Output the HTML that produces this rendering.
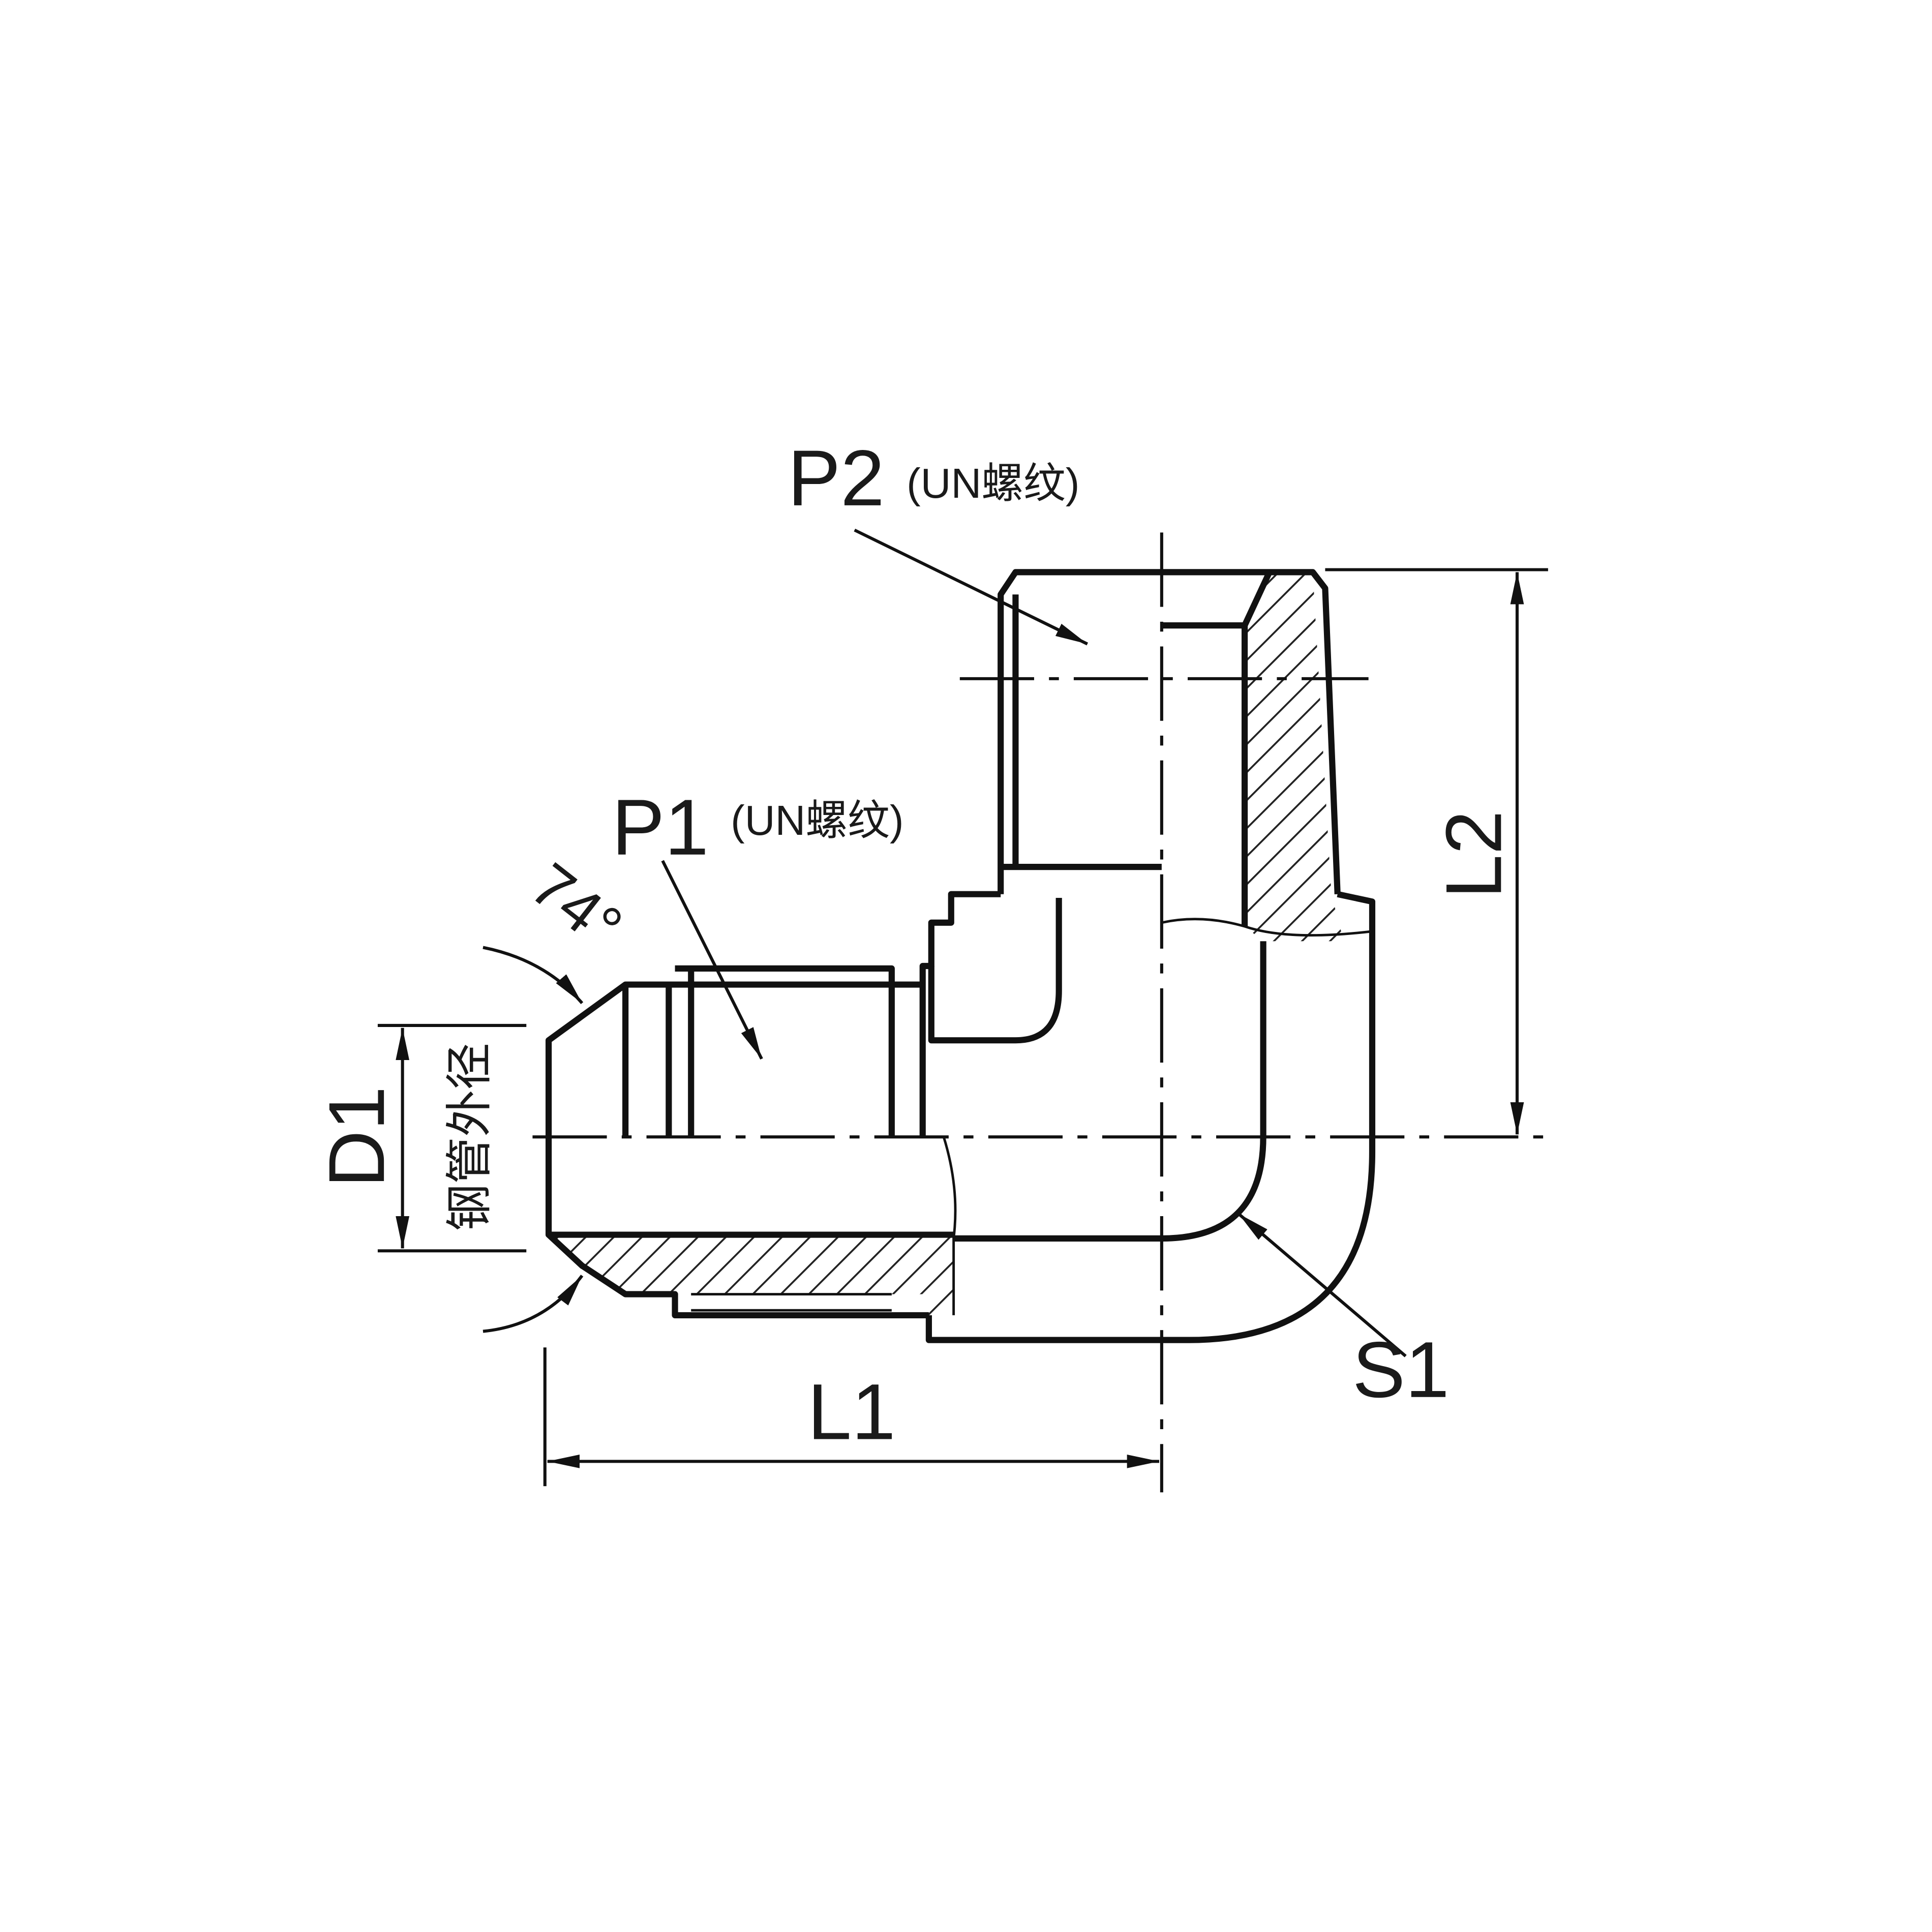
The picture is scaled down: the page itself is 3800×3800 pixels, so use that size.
<!DOCTYPE html>
<html><head><meta charset="utf-8"><style>
html,body{margin:0;padding:0;background:#fff;}
svg{display:block;}
text{font-family:"Liberation Sans","Noto Sans CJK SC",sans-serif;fill:#1a1a1a;}
</style></head><body>
<svg width="3800" height="3800" viewBox="0 0 1560 1560" xmlns="http://www.w3.org/2000/svg">
<defs>
<marker id="a" viewBox="0 0 10 10" refX="10" refY="5" markerWidth="26" markerHeight="11" markerUnits="userSpaceOnUse" orient="auto-start-reverse" preserveAspectRatio="none"><path d="M0,0 L10,5 L0,10 z" fill="#111"/></marker>
<pattern id="h" width="16" height="16" patternUnits="userSpaceOnUse" patternTransform="rotate(45)"><line x1="0" y1="0" x2="0" y2="16" stroke="#222" stroke-width="3"/></pattern>
</defs>
<g fill="none" stroke="#111" stroke-width="5" stroke-linejoin="round">
<path d="M1005,505 L1025,462 L1060,462 L1075,722 L1085,760 L1020,760 L1005,748 Z" fill="url(#h)" stroke="none"/>
<path d="M443,997 L770,997 L770,1062 L748,1062 L748,1045 L545,1045 L505,1045 L470,1022 Z" fill="url(#h)" stroke="none"/>
<path d="M808,722 L808,480 L820,462 L1060,462 L1070,475 L1080,722"/>
<path d="M820,480 L820,700"/>
<path d="M808,700 L938,700"/>
<path d="M938,505 L1005,505 L1025,462"/>
<path d="M1005,505 L1005,748"/>
<path d="M808,722 L768,722 L768,745 L752,745 L752,780 L745,780 L745,795"/>
<path d="M1080,722 L1108,728 L1108,930 Q1108,1082 960,1082 L750,1082 L750,1062"/>
<path d="M1020,760 L1020,918 Q1020,1000 938,1000 L770,1000"/>
<path d="M752,780 L752,840 L820,840 Q855,840 855,800 L855,725"/>
<path d="M938,745 Q970,738 1005,748 Q1040,760 1108,752" stroke-width="2"/>
<path d="M762,918 Q775,960 770,1000 L770,1062" stroke-width="2"/>
<path d="M745,795 L505,795 L443,840 L443,997 L470,1022 L505,1045 L545,1045 L545,1062 L750,1062"/>
<path d="M443,997 L770,997"/>
<path d="M505,795 L505,918"/>
<path d="M540,795 L540,918 M558,780 L558,918 M545,782 L720,782 L720,918 M745,795 L745,918"/>
<path d="M558,1045 L720,1045 M558,1058 L720,1058" stroke-width="2"/>
</g>
<g stroke="#111" stroke-width="2.5" stroke-dasharray="60,12,8,12">
<line x1="938" y1="430" x2="938" y2="1205"/>
<line x1="430" y1="918" x2="1250" y2="918"/>
<line x1="775" y1="548" x2="1105" y2="548"/>
</g>
<g stroke="#111" stroke-width="2.5">
<line x1="1070" y1="460" x2="1250" y2="460"/>
<line x1="305" y1="828" x2="425" y2="828"/>
<line x1="305" y1="1010" x2="425" y2="1010"/>
<line x1="440" y1="1088" x2="440" y2="1200"/>
<line x1="442" y1="1180" x2="936" y2="1180" marker-start="url(#a)" marker-end="url(#a)"/>
<line x1="1225" y1="462" x2="1225" y2="916" marker-start="url(#a)" marker-end="url(#a)"/>
<line x1="325" y1="830" x2="325" y2="1008" marker-start="url(#a)" marker-end="url(#a)"/>
<line x1="690" y1="428" x2="878" y2="520" marker-end="url(#a)"/>
<line x1="535" y1="695" x2="615" y2="855" marker-end="url(#a)"/>
<line x1="1135" y1="1095" x2="1000" y2="980" marker-end="url(#a)"/>
<path d="M390,765 Q440,775 470,810" fill="none" marker-end="url(#a)"/>
<path d="M390,1075 Q440,1070 470,1030" fill="none" marker-end="url(#a)"/>
</g>
<text x="636" y="408" font-size="64">P2</text>
<text x="732" y="402" font-size="34">(UN螺纹)</text>
<text x="494" y="690" font-size="64">P1</text>
<text x="590" y="674" font-size="34">(UN螺纹)</text>
<text x="1092" y="1128" font-size="64">S1</text>
<text x="652" y="1162" font-size="64">L1</text>
<text transform="translate(1212,690) rotate(-90)" text-anchor="middle" font-size="64">L2</text>
<text transform="translate(310,918) rotate(-90)" text-anchor="middle" font-size="64">D1</text>
<text transform="translate(392,918) rotate(-90)" text-anchor="middle" font-size="38">钢管外径</text>
<text transform="translate(455,745) rotate(38)" text-anchor="middle" font-size="50">74°</text>
</svg>
</body></html>
